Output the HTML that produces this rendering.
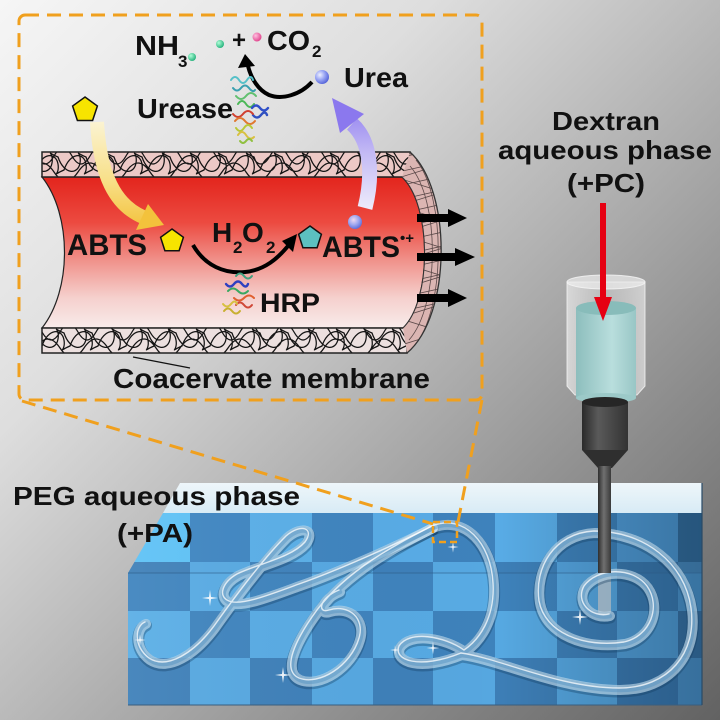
<!DOCTYPE html>
<html>
<head>
<meta charset="utf-8">
<style>
html,body{margin:0;padding:0;width:720px;height:720px;overflow:hidden;background:#ccc;}
svg{display:block;}
text{font-family:"Liberation Sans",Arial,sans-serif;font-weight:bold;fill:#111;}
</style>
</head>
<body>
<svg width="720" height="720" viewBox="0 0 720 720" xmlns="http://www.w3.org/2000/svg">
<defs>
  <linearGradient id="bg" x1="0" y1="0" x2="720" y2="720" gradientUnits="userSpaceOnUse">
    <stop offset="0" stop-color="#f6f6f6"/>
    <stop offset="0.3" stop-color="#dedede"/>
    <stop offset="0.5" stop-color="#bababa"/>
    <stop offset="0.75" stop-color="#8c8c8c"/>
    <stop offset="1" stop-color="#626262"/>
  </linearGradient>
  <linearGradient id="red" x1="0" y1="177" x2="0" y2="328" gradientUnits="userSpaceOnUse">
    <stop offset="0" stop-color="#e3251d"/>
    <stop offset="0.3" stop-color="#ec4a40"/>
    <stop offset="0.55" stop-color="#f0918a"/>
    <stop offset="0.8" stop-color="#f5d0cd"/>
    <stop offset="1" stop-color="#f8ebea"/>
  </linearGradient>
  <linearGradient id="yel" x1="0" y1="120" x2="0" y2="228" gradientUnits="userSpaceOnUse">
    <stop offset="0" stop-color="#fbf4d4"/>
    <stop offset="0.55" stop-color="#f8e08a"/>
    <stop offset="1" stop-color="#f3c23c"/>
  </linearGradient>
  <linearGradient id="pur" x1="0" y1="210" x2="0" y2="98" gradientUnits="userSpaceOnUse">
    <stop offset="0" stop-color="#eeecfb"/>
    <stop offset="0.5" stop-color="#c4bbf5"/>
    <stop offset="1" stop-color="#8b78ee"/>
  </linearGradient>
  <radialGradient id="gdot" cx="0.35" cy="0.35" r="0.7">
    <stop offset="0" stop-color="#b0ffd8"/><stop offset="1" stop-color="#22b07a"/>
  </radialGradient>
  <radialGradient id="pdot" cx="0.35" cy="0.35" r="0.7">
    <stop offset="0" stop-color="#ffc0e0"/><stop offset="1" stop-color="#e0408a"/>
  </radialGradient>
  <radialGradient id="bdot" cx="0.35" cy="0.35" r="0.7">
    <stop offset="0" stop-color="#eef0ff"/><stop offset="0.5" stop-color="#9aa6f4"/><stop offset="1" stop-color="#5261d8"/>
  </radialGradient>
  <radialGradient id="bdot2" cx="0.4" cy="0.35" r="0.7">
    <stop offset="0" stop-color="#f0d8f0"/><stop offset="0.5" stop-color="#a0a8f0"/><stop offset="1" stop-color="#5868d8"/>
  </radialGradient>
  <linearGradient id="teal" x1="576" y1="0" x2="636" y2="0" gradientUnits="userSpaceOnUse">
    <stop offset="0" stop-color="#8dbebd"/><stop offset="0.6" stop-color="#b9dedd"/><stop offset="1" stop-color="#98c6c5"/>
  </linearGradient>
  <linearGradient id="glass" x1="567" y1="0" x2="645" y2="0" gradientUnits="userSpaceOnUse">
    <stop offset="0" stop-color="#e8e8e8" stop-opacity="0.75"/><stop offset="0.5" stop-color="#d6d6d6" stop-opacity="0.45"/><stop offset="1" stop-color="#e4e4e4" stop-opacity="0.7"/>
  </linearGradient>
  <linearGradient id="collar" x1="582" y1="0" x2="628" y2="0" gradientUnits="userSpaceOnUse">
    <stop offset="0" stop-color="#2a2a2a"/><stop offset="0.35" stop-color="#5a5a5a"/><stop offset="1" stop-color="#333"/>
  </linearGradient>
  <linearGradient id="needle" x1="598" y1="0" x2="611" y2="0" gradientUnits="userSpaceOnUse">
    <stop offset="0" stop-color="#2e2e2e"/><stop offset="0.45" stop-color="#707070"/><stop offset="1" stop-color="#3a3a3a"/>
  </linearGradient>
  <linearGradient id="shadeR" x1="128" y1="0" x2="702" y2="0" gradientUnits="userSpaceOnUse">
    <stop offset="0" stop-color="#ffffff" stop-opacity="0.06"/>
    <stop offset="0.65" stop-color="#000" stop-opacity="0"/>
    <stop offset="1" stop-color="#001428" stop-opacity="0.28"/>
  </linearGradient>
  <linearGradient id="pale" x1="0" y1="483" x2="0" y2="513" gradientUnits="userSpaceOnUse">
    <stop offset="0" stop-color="#eef6fa"/><stop offset="1" stop-color="#d8ebf5"/>
  </linearGradient>
  <clipPath id="cTop"><rect x="42" y="152" width="368" height="25"/></clipPath>
  <clipPath id="cBot"><rect x="42" y="328" width="365" height="25"/></clipPath>
  <clipPath id="cRing"><path d="M410,152 C452,190 452,315 407,353 L403,328 C432,300 432,205 402,177 Z"/></clipPath>
  <clipPath id="cTopFace"><polygon points="180,483 702,483 702,573 128,573 163,513"/></clipPath>

  <path id="gA" d="M146,624 C136,628 134,648 150,660 C168,672 195,655 215,628 C235,600 265,560 287,538 C302,525 316,530 306,544 C292,560 258,566 238,576 C224,584 218,598 230,603 C242,608 270,597 300,586 C340,572 400,545 433,528"/>
  <path id="gB" d="M433,528 C400,545 350,570 318,612 C296,642 282,672 300,680 C320,688 352,668 360,640 C366,620 350,606 330,612 C318,616 320,600 340,592"/>
  <path id="gC" d="M433,528 C465,515 492,545 494,585 C496,620 480,642 465,652 C445,638 410,632 400,648 C394,662 420,672 462,655 C500,660 560,690 620,690 C670,690 698,655 692,610 C686,565 645,533 595,533 C555,535 535,570 540,603 C546,635 585,650 625,644 C652,638 662,608 648,588 C633,568 598,570 585,588 C576,604 592,620 610,616"/>
  <path id="spark" d="M0,-8 L1,-1 L8,0 L1,1 L0,8 L-1,1 L-8,0 L-1,-1Z"/>
  <path id="memb" d="M36,170 c6,-18 20,-18 22,-6 s-8,12 6,6 c6,-18 20,-18 22,-6 s-8,12 6,6 c6,-18 20,-18 22,-6 s-8,12 6,6 c6,-18 20,-18 22,-6 s-8,12 6,6 c6,-18 20,-18 22,-6 s-8,12 6,6 c6,-18 20,-18 22,-6 s-8,12 6,6 c6,-18 20,-18 22,-6 s-8,12 6,6 c6,-18 20,-18 22,-6 s-8,12 6,6 c6,-18 20,-18 22,-6 s-8,12 6,6 c6,-18 20,-18 22,-6 s-8,12 6,6 c6,-18 20,-18 22,-6 s-8,12 6,6 c6,-18 20,-18 22,-6 s-8,12 6,6 c6,-18 20,-18 22,-6 s-8,12 6,6 c6,-18 20,-18 22,-6 s-8,12 6,6 M30,157 c6,18 20,18 22,6 s-8,-12 6,-6 c6,18 20,18 22,6 s-8,-12 6,-6 c6,18 20,18 22,6 s-8,-12 6,-6 c6,18 20,18 22,6 s-8,-12 6,-6 c6,18 20,18 22,6 s-8,-12 6,-6 c6,18 20,18 22,6 s-8,-12 6,-6 c6,18 20,18 22,6 s-8,-12 6,-6 c6,18 20,18 22,6 s-8,-12 6,-6 c6,18 20,18 22,6 s-8,-12 6,-6 c6,18 20,18 22,6 s-8,-12 6,-6 c6,18 20,18 22,6 s-8,-12 6,-6 c6,18 20,18 22,6 s-8,-12 6,-6 c6,18 20,18 22,6 s-8,-12 6,-6 c6,18 20,18 22,6 s-8,-12 6,-6 c6,18 20,18 22,6 s-8,-12 6,-6 M36,156 q9,16 18,0 t18,0 t18,0 t18,0 t18,0 t18,0 t18,0 t18,0 t18,0 t18,0 t18,0 t18,0 t18,0 t18,0 t18,0 t18,0 t18,0 t18,0 t18,0 t18,0 t18,0 t18,0 M30,172 q12,-18 24,0 t24,0 t24,0 t24,0 t24,0 t24,0 t24,0 t24,0 t24,0 t24,0 t24,0 t24,0 t24,0 t24,0 t24,0 t24,0 t24,0"/>
</defs>

<!-- background -->
<rect x="0" y="0" width="720" height="720" fill="url(#bg)"/>

<!-- ===== Tube ===== -->
<path d="M42,177 L402,177 C432,205 432,300 403,328 L42,328 C72,290 72,215 42,177 Z" fill="url(#red)" stroke="#222" stroke-width="1.2"/>
<!-- top membrane band -->
<rect x="42" y="152" width="368" height="25" fill="#ecc9c6"/>
<g clip-path="url(#cTop)" fill="none" stroke="#141414" stroke-width="1.25">
  <use href="#memb"/>
</g>
<rect x="42" y="152" width="368" height="25" fill="none" stroke="#222" stroke-width="1.5"/>
<!-- bottom membrane band -->
<rect x="42" y="328" width="365" height="25" fill="#ece0df"/>
<g clip-path="url(#cBot)" fill="none" stroke="#141414" stroke-width="1.25">
  <use href="#memb" transform="translate(6,176)"/>
</g>
<rect x="42" y="328" width="365" height="25" fill="none" stroke="#222" stroke-width="1.5"/>
<!-- end ring -->
<path d="M410,152 C452,190 452,315 407,353 L403,328 C432,300 432,205 402,177 Z" fill="#dbb5b2"/>
<g clip-path="url(#cRing)" fill="none" stroke="#5a4848" stroke-width="0.8">
  <path d="M398,150 l45,14 l-45,14 l45,14 l-45,14 l45,14 l-45,14 l45,14 l-45,14 l45,14 l-45,14 l45,14 l-45,14 l45,14 l-45,14"/>
  <path d="M398,158 l45,-10 m-45,24 l45,-10 m-45,24 l45,-10 m-45,24 l45,-10 m-45,24 l45,-10 m-45,24 l45,-10 m-45,24 l45,-10 m-45,24 l45,-10 m-45,24 l45,-10 m-45,24 l45,-10 m-45,24 l45,-10 m-45,24 l45,-10"/>
  <path d="M416,160 C446,196 446,310 414,346"/>
  <path d="M410,166 C440,200 440,305 409,340"/>
</g>
<path d="M410,152 C452,190 452,315 407,353" fill="none" stroke="#333" stroke-width="1.3"/>
<path d="M402,177 C432,205 432,300 403,328" fill="none" stroke="#333" stroke-width="1"/>

<!-- black outflow arrows -->
<g fill="#000">
  <rect x="417" y="214" width="33" height="8"/><polygon points="448,209 467,218 448,227"/>
  <rect x="417" y="253" width="40" height="8"/><polygon points="455,248 475,257 455,266"/>
  <rect x="417" y="294" width="33" height="8"/><polygon points="448,289 467,298 448,307"/>
</g>

<!-- yellow curved arrow -->
<path d="M97,122 C100,175 115,205 143,217" fill="none" stroke="url(#yel)" stroke-width="14" stroke-linecap="butt"/>
<polygon points="148,204 164,225 136,230" fill="#f3c23c"/>
<!-- purple curved arrow -->
<path d="M365,208 C374,172 370,140 352,124" fill="none" stroke="url(#pur)" stroke-width="15"/>
<polygon points="332,98 364,114 340,133" fill="#8b78ee"/>

<!-- urease arrow -->
<path d="M312,82 C300,95 282,100 269,95 C258,90 251,78 248,66" fill="none" stroke="#000" stroke-width="4"/>
<polygon points="245,54 238,68 255,66" fill="#000"/>
<!-- HRP arrow -->
<path d="M193,245 C205,266 225,274 245,272 C265,270 278,258 288,246" fill="none" stroke="#000" stroke-width="4"/>
<polygon points="297,234 282,241 293,252" fill="#000"/>

<!-- pentagons -->
<polygon points="85,97 97.4,106 92.6,120.5 77.4,120.5 72.6,106" fill="#f7e400" stroke="#111" stroke-width="1.5"/>
<polygon points="172,229 183.4,237.3 179.1,250.7 164.9,250.7 160.6,237.3" fill="#f7e400" stroke="#111" stroke-width="1.5"/>
<polygon points="310,226 321.4,234.3 317.1,247.7 302.9,247.7 298.6,234.3" fill="#5cc0c0" stroke="#111" stroke-width="1.5"/>

<!-- molecules dots -->
<circle cx="192" cy="57" r="4" fill="url(#gdot)"/>
<circle cx="220" cy="44" r="4" fill="url(#gdot)"/>
<circle cx="257" cy="37" r="4.5" fill="url(#pdot)"/>
<circle cx="322" cy="77" r="7" fill="url(#bdot)"/>
<circle cx="355" cy="222" r="7" fill="url(#bdot2)"/>

<!-- urease protein -->
<g fill="none" stroke-width="2" stroke-linecap="round">
  <path d="M231,80 q4,-6 8,0 t8,0 t6,0" stroke="#55c0c8"/>
  <path d="M233,88 q4,5 8,0 t8,0 t6,2" stroke="#3aa0b0"/>
  <path d="M236,96 q5,6 10,0 t10,0" stroke="#62c070"/>
  <path d="M238,104 q4,-6 8,0 t8,0" stroke="#4cb858"/>
  <path d="M252,108 q4,-5 8,0 t8,0" stroke="#2f4fc8" stroke-width="2.4"/>
  <path d="M253,115 q4,5 8,0 t6,0" stroke="#3050c0" stroke-width="2.4"/>
  <path d="M233,114 q5,6 10,0 t10,0" stroke="#d04030"/>
  <path d="M235,121 q5,-6 10,0 t10,0" stroke="#e07830"/>
  <path d="M236,128 q4,6 8,0 t8,0" stroke="#b8c838"/>
  <path d="M238,135 q4,-6 8,0 t8,2" stroke="#d8c040"/>
  <path d="M240,141 q3,4 6,0 t6,0" stroke="#90c040"/>
</g>
<!-- HRP protein -->
<g fill="none" stroke-width="2" stroke-linecap="round">
  <path d="M236,276 q4,-5 8,0 t8,0" stroke="#40a080"/>
  <path d="M226,284 q4,5 8,0 t8,0 t6,0" stroke="#3040c0" stroke-width="2.4"/>
  <path d="M228,291 q5,-5 10,0 t10,0" stroke="#38a860"/>
  <path d="M234,298 q5,5 10,0 t10,0" stroke="#e06030"/>
  <path d="M236,305 q4,-5 8,0 t8,0" stroke="#d04838"/>
  <path d="M223,304 q4,5 8,0 t6,0" stroke="#d8c040"/>
  <path d="M224,311 q4,-5 8,0 t8,0" stroke="#c8b030"/>
</g>

<!-- labels left panel -->
<text x="135" y="55" font-size="28" textLength="44" lengthAdjust="spacingAndGlyphs">NH</text>
<text x="178" y="67" font-size="17">3</text>
<text x="232" y="48" font-size="24">+</text>
<text x="267" y="50" font-size="28" textLength="43" lengthAdjust="spacingAndGlyphs">CO</text>
<text x="312" y="57" font-size="17">2</text>
<text x="344" y="87" font-size="28" textLength="64" lengthAdjust="spacingAndGlyphs">Urea</text>
<text x="137" y="118" font-size="28" textLength="96" lengthAdjust="spacingAndGlyphs">Urease</text>
<text x="67" y="255" font-size="30" textLength="80" lengthAdjust="spacingAndGlyphs">ABTS</text>
<text x="212" y="242" font-size="28">H</text>
<text x="233" y="253" font-size="17">2</text>
<text x="242" y="242" font-size="28">O</text>
<text x="266" y="253" font-size="17">2</text>
<text x="322" y="257" font-size="30" textLength="78" lengthAdjust="spacingAndGlyphs">ABTS</text>
<text x="400" y="243" font-size="15">•+</text>
<text x="260" y="312" font-size="27" textLength="60" lengthAdjust="spacingAndGlyphs">HRP</text>
<line x1="133" y1="357" x2="190" y2="368" stroke="#111" stroke-width="1.2"/>
<text x="113" y="388" font-size="28" textLength="317" lengthAdjust="spacingAndGlyphs">Coacervate membrane</text>

<!-- ===== Block ===== -->
<polygon points="180,483 702,483 702,513 163,513" fill="url(#pale)"/>
<g clip-path="url(#cTopFace)">
  <rect x="120" y="513" width="70" height="49" fill="#5ec2f6"/>
  <rect x="190" y="513" width="60" height="49" fill="#3f86c2"/>
  <rect x="250" y="513" width="62" height="49" fill="#5aafe8"/>
  <rect x="312" y="513" width="61" height="49" fill="#3f84bf"/>
  <rect x="373" y="513" width="60" height="49" fill="#58ace6"/>
  <rect x="433" y="513" width="62" height="49" fill="#3e82bc"/>
  <rect x="495" y="513" width="62" height="49" fill="#58abe5"/>
  <rect x="557" y="513" width="60" height="49" fill="#3d80b8"/>
  <rect x="617" y="513" width="61" height="49" fill="#4f9ad4"/>
  <rect x="678" y="513" width="24" height="49" fill="#356f9e"/>
  <rect x="120" y="562" width="70" height="11" fill="#3f80b8"/>
  <rect x="190" y="562" width="60" height="11" fill="#57a9e2"/>
  <rect x="250" y="562" width="62" height="11" fill="#3f82bc"/>
  <rect x="312" y="562" width="61" height="11" fill="#56a8e2"/>
  <rect x="373" y="562" width="60" height="11" fill="#3e80ba"/>
  <rect x="433" y="562" width="62" height="11" fill="#56a8e1"/>
  <rect x="495" y="562" width="62" height="11" fill="#3d7fb7"/>
  <rect x="557" y="562" width="60" height="11" fill="#53a2dc"/>
  <rect x="617" y="562" width="61" height="11" fill="#3b7ab0"/>
  <rect x="678" y="562" width="24" height="11" fill="#4a8cc0"/>
</g>
<g>
  <rect x="128" y="573" width="62" height="38" fill="#3f84be"/>
  <rect x="190" y="573" width="60" height="38" fill="#58abe4"/>
  <rect x="250" y="573" width="62" height="38" fill="#3f84be"/>
  <rect x="312" y="573" width="61" height="38" fill="#58abe4"/>
  <rect x="373" y="573" width="60" height="38" fill="#3f83bd"/>
  <rect x="433" y="573" width="62" height="38" fill="#58abe4"/>
  <rect x="495" y="573" width="62" height="38" fill="#3e82bb"/>
  <rect x="557" y="573" width="60" height="38" fill="#56a7e0"/>
  <rect x="617" y="573" width="61" height="38" fill="#3c7db4"/>
  <rect x="678" y="573" width="24" height="38" fill="#4e98d0"/>
  <rect x="128" y="611" width="62" height="47" fill="#5aaee6"/>
  <rect x="190" y="611" width="60" height="47" fill="#3f84be"/>
  <rect x="250" y="611" width="62" height="47" fill="#58abe4"/>
  <rect x="312" y="611" width="61" height="47" fill="#3f83bd"/>
  <rect x="373" y="611" width="60" height="47" fill="#57aae3"/>
  <rect x="433" y="611" width="62" height="47" fill="#3e82bb"/>
  <rect x="495" y="611" width="62" height="47" fill="#56a8e1"/>
  <rect x="557" y="611" width="60" height="47" fill="#3d7fb7"/>
  <rect x="617" y="611" width="61" height="47" fill="#529fd8"/>
  <rect x="678" y="611" width="24" height="47" fill="#3a74a6"/>
  <rect x="128" y="658" width="62" height="47" fill="#3e80b9"/>
  <rect x="190" y="658" width="60" height="47" fill="#56a8e1"/>
  <rect x="250" y="658" width="62" height="47" fill="#3e80b9"/>
  <rect x="312" y="658" width="61" height="47" fill="#56a8e1"/>
  <rect x="373" y="658" width="60" height="47" fill="#3e80b9"/>
  <rect x="433" y="658" width="62" height="47" fill="#56a7e0"/>
  <rect x="495" y="658" width="62" height="47" fill="#3d7eb6"/>
  <rect x="557" y="658" width="60" height="47" fill="#54a4dd"/>
  <rect x="617" y="658" width="61" height="47" fill="#3b7ab1"/>
  <rect x="678" y="658" width="24" height="47" fill="#4c93ca"/>
</g>
<polygon points="163,513 702,513 702,705 128,705 128,573" fill="url(#shadeR)"/>
<line x1="128" y1="573" x2="702" y2="573" stroke="#2c5a85" stroke-width="1" opacity="0.6"/>
<line x1="128" y1="705" x2="702" y2="705" stroke="#3a5e7e" stroke-width="1"/>
<line x1="702" y1="483" x2="702" y2="705" stroke="#2a4a66" stroke-width="1.2"/>

<!-- needle inside liquid -->
<rect x="598" y="572" width="13" height="44" rx="5" fill="#a8b4be" opacity="0.8"/>

<!-- glass tubes -->
<g fill="none" stroke-linecap="round" stroke-linejoin="round">
  <g transform="translate(0,1.5)" stroke="#123a5c" stroke-opacity="0.35" stroke-width="12">
    <use href="#gA"/><use href="#gB"/><use href="#gC"/>
  </g>
  <g stroke="#cde8f8" stroke-opacity="0.6" stroke-width="10">
    <use href="#gA"/><use href="#gB"/><use href="#gC"/>
  </g>
  <g stroke="#4f90c0" stroke-opacity="0.45" stroke-width="4.5">
    <use href="#gA"/><use href="#gB"/><use href="#gC"/>
  </g>
  <g transform="translate(-1,-2)" stroke="#ffffff" stroke-opacity="0.75" stroke-width="1.4">
    <use href="#gA"/><use href="#gB"/><use href="#gC"/>
  </g>
</g>
<g fill="#ffffff" opacity="0.9">
  <use href="#spark" transform="translate(210,598)"/>
  <use href="#spark" transform="translate(283,675)"/>
  <use href="#spark" transform="translate(140,640) scale(0.7)"/>
  <use href="#spark" transform="translate(433,648) scale(0.8)"/>
  <use href="#spark" transform="translate(453,547) scale(0.7)"/>
  <use href="#spark" transform="translate(580,617)"/>
  <use href="#spark" transform="translate(395,650) scale(0.6)"/>
</g>

<!-- ===== Syringe ===== -->
<path d="M567,282 L567,386 L575,395 L637,395 L645,386 L645,282 Z" fill="url(#glass)" stroke="#f4f4f4" stroke-opacity="0.8" stroke-width="1"/>
<ellipse cx="606" cy="282" rx="39" ry="7" fill="#ececec" fill-opacity="0.7" stroke="#f6f6f6" stroke-opacity="0.8"/>
<rect x="576" y="308" width="60" height="90" fill="url(#teal)"/>
<ellipse cx="606" cy="398" rx="30" ry="5" fill="#9cc9c8"/>
<ellipse cx="606" cy="308" rx="30" ry="7" fill="#88bcba"/>
<rect x="582" y="402" width="46" height="48" fill="url(#collar)"/>
<ellipse cx="605" cy="402" rx="23" ry="5" fill="#262626"/>
<polygon points="582,450 628,450 612,468 598,468" fill="#2f2f2f"/>
<rect x="598" y="466" width="13" height="107" fill="url(#needle)"/>

<!-- red arrow -->
<line x1="603" y1="203" x2="603" y2="302" stroke="#e60012" stroke-width="6"/>
<polygon points="594,297 612,297 603,321" fill="#e60012"/>

<!-- right labels -->
<text x="606" y="130" font-size="26" text-anchor="middle" textLength="108" lengthAdjust="spacingAndGlyphs">Dextran</text>
<text x="605" y="159" font-size="26" text-anchor="middle" textLength="214" lengthAdjust="spacingAndGlyphs">aqueous phase</text>
<text x="606" y="192" font-size="26" text-anchor="middle" textLength="78" lengthAdjust="spacingAndGlyphs">(+PC)</text>

<!-- bottom labels -->
<text x="13" y="505" font-size="26" textLength="287" lengthAdjust="spacingAndGlyphs">PEG aqueous phase</text>
<text x="117" y="542" font-size="26" textLength="76" lengthAdjust="spacingAndGlyphs">(+PA)</text>

<!-- dashed orange callout -->
<g fill="none" stroke="#f0a01e" stroke-width="3">
  <rect x="19" y="15" width="463" height="385" rx="6" stroke-dasharray="14 8"/>
  <line x1="22" y1="401" x2="433" y2="524" stroke-dasharray="14 8"/>
  <line x1="482" y1="400" x2="458" y2="522" stroke-dasharray="14 8"/>
  <rect x="433" y="522" width="24" height="20" stroke-dasharray="7 4" stroke-width="2.5"/>
</g>
</svg>
</body>
</html>
